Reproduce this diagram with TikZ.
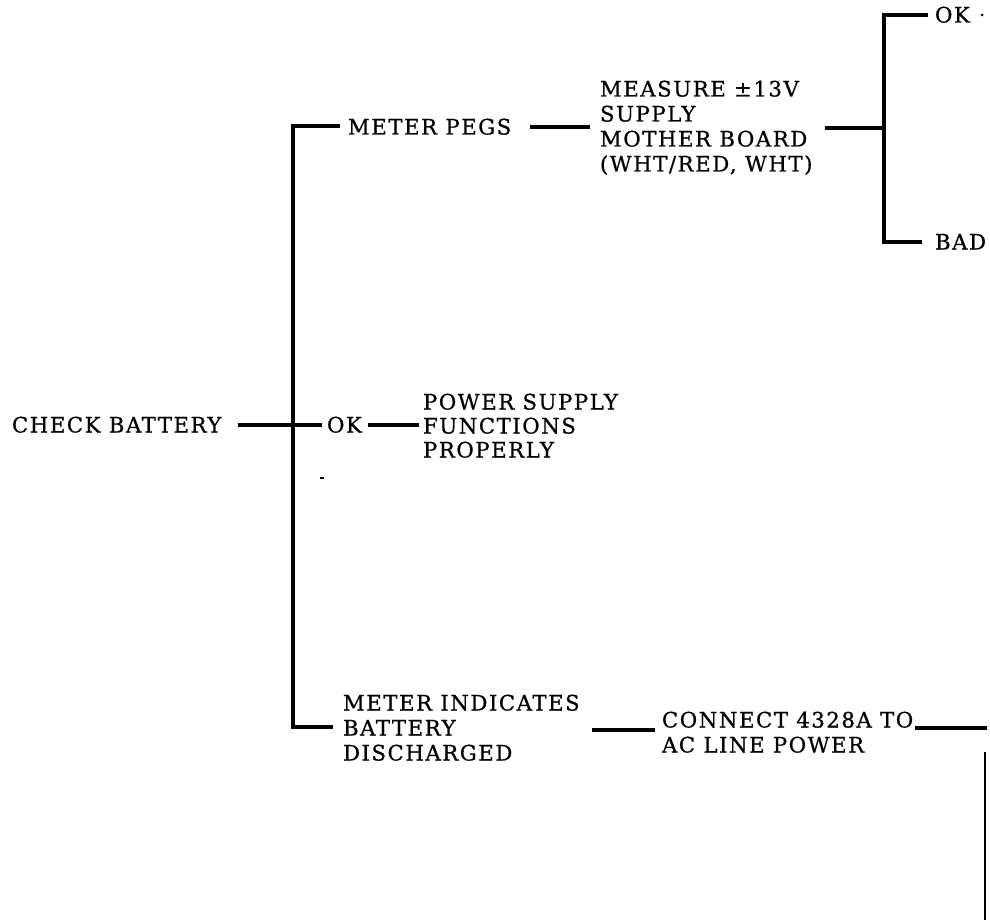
\documentclass[tikz,border=0pt]{standalone}
\usepackage{fontspec}
\setmainfont{DejaVu Serif}[LetterSpace=7, FakeBold=0.7]
\tikzset{
  txt/.style={inner sep=0pt, outer sep=0pt, anchor=west, text height=15pt, text depth=0pt, font=\fontsize{21.3}{25}\selectfont},
  ln/.style={line width=3.2pt, line cap=butt},
  thinln/.style={line width=2pt},
}
\begin{document}
\begin{tikzpicture}[x=1pt,y=-1pt]
\useasboundingbox (0,0) rectangle (990,920);
% texts
\node[txt] (check) at (12,425) {CHECK BATTERY};
\node[txt] (pegs) at (348,127) {METER PEGS};
\node[txt] (meas1) at (600,89) {MEASURE ±13V};
\node[txt] (meas2) at (600,114) {SUPPLY};
\node[txt] (meas3) at (600,139) {MOTHER BOARD};
\node[txt] (meas4) at (600,164) {(WHT/RED, WHT)};
\node[txt] (oktop) at (935,15) {OK};
\node[circle, fill, inner sep=0pt, minimum size=3pt] (dot) at (982,15) {};
\node[txt] (bad) at (935,242) {BAD};
\node[txt] (okmid) at (327,425) {OK};
\node[txt] (pw1) at (423,402) {POWER SUPPLY};
\node[txt] (pw2) at (423,426) {FUNCTIONS};
\node[txt] (pw3) at (423,450) {PROPERLY};
\node[txt] (mi1) at (343,703) {METER INDICATES};
\node[txt] (mi2) at (343,728) {BATTERY};
\node[txt] (mi3) at (343,753) {DISCHARGED};
\node[txt] (con1) at (662,720) {CONNECT 4328A TO};
\node[txt] (con2) at (662,745) {AC LINE POWER};
% junction coordinates
\coordinate (jtop) at (293,126);
\coordinate (jmid) at (293,425);
\coordinate (jbot) at (293,727);
\coordinate (rj) at (884,128);
\coordinate (rtop) at (884,15);
\coordinate (rbot) at (884,242);
\coordinate (cbl) at (592,730);
\coordinate (cbr) at (655,730);
\coordinate (ccl) at (915,728);
\coordinate (cend) at (987,728);
\coordinate (vtop) at (985,752);
\coordinate (vbot) at (985,920);
% connectors
\draw[ln] (jtop) -- (jbot);
\draw[ln] (238,425) -- (322,425);
\draw[ln] ([xshift=-1.6pt]jtop) -- (340,126);
\draw[ln] (530,127) -- (590,127);
\draw[ln] (825,128) -- (rj);
\draw[ln] ([yshift=1.6pt]rtop) -- (rbot);
\draw[ln] ([xshift=-1.6pt]rtop) -- (928,15);
\draw[ln] ([xshift=-1.6pt]rbot) -- (922,242);
\draw[ln] (368,425) -- (419,425);
\draw[ln] ([xshift=-1.6pt]jbot) -- (333,727);
\draw[ln] (cbl) -- (cbr);
\draw[ln] (ccl) -- (cend);
\draw[thinln] (vtop) -- (vbot);
\draw[line width=1.5pt] (320,478) -- (324,478);
\end{tikzpicture}
\end{document}
